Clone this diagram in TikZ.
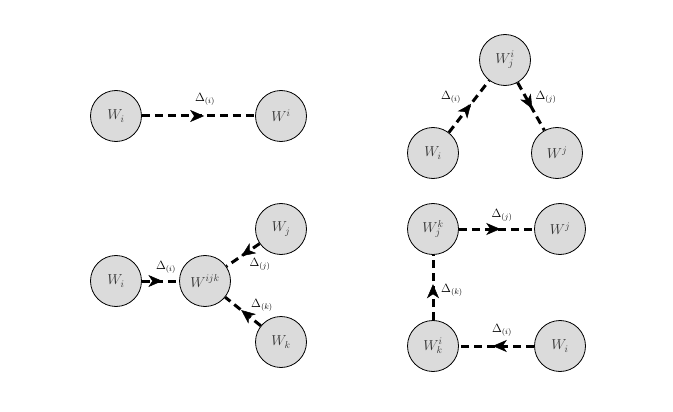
\documentclass[tikz,border=0pt]{standalone}
\usetikzlibrary{arrows.meta,decorations.markings}
\begin{document}
\begin{tikzpicture}[x=1pt,y=-1pt,
  wnode/.style={circle,draw=black,line width=0.8pt,fill=black!14,minimum size=51pt,inner sep=0pt,text=black!80,font=\fontsize{14}{16}\selectfont},
  conn/.style={line width=3pt,dash pattern=on 8pt off 5pt,
    postaction={decorate,decoration={markings,mark=at position 0.55 with {\arrow[line width=0.5pt]{Stealth[length=14pt,width=12pt,inset=4pt]}}}}},
  lbl/.style={font=\fontsize{12}{14}\selectfont,inner sep=0pt}]
\useasboundingbox (0,0) rectangle (673,412);
% panel 1
\node[wnode] (a1) at (116,116) {$W_i$};
\node[wnode] (a2) at (281,116) {$W^i$};
\draw[conn] (a1) -- (a2);
\node[lbl] (la) at (205,99) {$\Delta_{(i)}$};
% panel 2
\node[wnode] (b1) at (505,60) {$W_j^i$};
\node[wnode] (b2) at (433,153) {$W_i$};
\node[wnode] (b3) at (557,153) {$W^j$};
\draw[conn] (b2) -- (b1);
\draw[conn] (b1) -- (b3);
\node[lbl] (lb1) at (451,97) {$\Delta_{(i)}$};
\node[lbl] (lb2) at (546,97) {$\Delta_{(j)}$};
% panel 3
\node[wnode] (c1) at (116,281) {$W_i$};
\node[wnode] (c2) at (205,281) {$W^{ijk}$};
\node[wnode] (c3) at (281,229) {$W_j$};
\node[wnode] (c4) at (281,342) {$W_k$};
\draw[conn] (c1) -- (c2);
\draw[conn] (c3) -- (c2);
\draw[conn] (c4) -- (c2);
\node[lbl] (lc1) at (166,267) {$\Delta_{(i)}$};
\node[lbl] (lc2) at (260,264) {$\Delta_{(j)}$};
\node[lbl] (lc3) at (262,305) {$\Delta_{(k)}$};
% panel 4
\node[wnode] (d1) at (433,229) {$W_j^k$};
\node[wnode] (d2) at (560,229) {$W^j$};
\node[wnode] (d3) at (433,346) {$W_k^i$};
\node[wnode] (d4) at (560,346) {$W_i$};
\draw[conn] (d1) -- (d2);
\draw[conn] (d3) -- (d1);
\draw[conn] (d4) -- (d3);
\node[lbl] (ld1) at (502,215) {$\Delta_{(j)}$};
\node[lbl] (ld2) at (452,290) {$\Delta_{(k)}$};
\node[lbl] (ld3) at (502,330) {$\Delta_{(i)}$};
\end{tikzpicture}
\end{document}
